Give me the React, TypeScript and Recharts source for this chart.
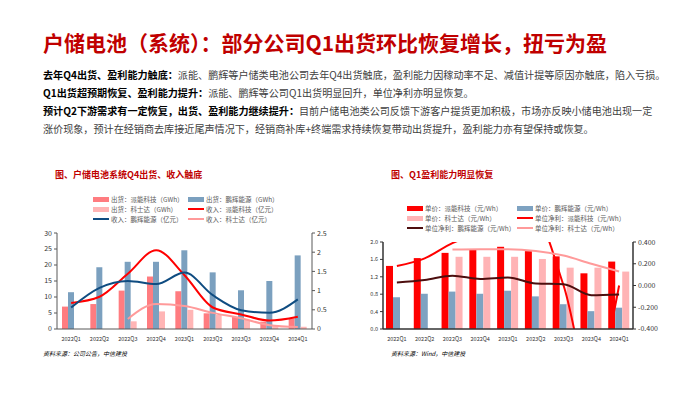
import React from 'react';
import { ComposedChart, Bar, Line, XAxis, YAxis } from 'recharts';

const quarters = [
  '2022Q1', '2022Q2', '2022Q3', '2022Q4',
  '2023Q1', '2023Q2', '2023Q3', '2023Q4', '2024Q1',
];

// 左图：出货 (GWh) + 收入 (亿元)
const shipPylon = [7, 7.8, 12, 16.4, 11.8, 4.9, 3.8, 2.3, 3.3];
const shipGreatPower = [11.5, 19.3, 21, 21, 24.6, 17.7, 12.1, 15, 23];
const shipKstar = [null, null, 2.4, 5.5, 6, 4.4, 2.8, 1.2, 0.7];
const revPylon = [0.68, 0.84, 1.44, 2.05, 1.4, 0.56, 0.38, 0.22, 0.32];
const revGreatPower = [0.56, 1.07, 1.25, 1.17, 1.47, 0.88, 0.49, 0.42, 0.77];
const revKstar = [null, null, 0.26, 0.65, 0.6, 0.42, 0.28, 0.1, 0.05];

// 右图：单价 + 单位净利 (元/Wh)
const pricePylon = [1.45, 1.63, 1.75, 1.83, 1.89, 1.79, 1.67, 1.28, 1.55];
const priceGreatPower = [0.73, 0.81, 0.86, 0.81, 0.88, 0.75, 0.57, 0.41, 0.49];
const priceKstar = [null, null, 1.66, 1.66, 1.66, 1.61, 1.41, 1.41, 1.32];
const profitPylon = [0.18, 0.25, 0.39, 0.48, 0.55, 0.6, 0.0, -0.9, 0.0];
const profitGreatPower = [0.027, 0.05, 0.09, 0.06, 0.073, 0.018, 0.012, -0.09, -0.083];
const profitKstar = [null, null, 0.33, 0.333, 0.333, 0.318, 0.275, 0.2, 0.128];

const leftTicks = [0, 5, 10, 15, 20, 25, 30];
const leftRightTicks = [0, 0.5, 1, 1.5, 2, 2.5];
const priceTicks = [0, 0.2, 0.4, 0.6, 0.8, 1.0, 1.2, 1.4, 1.6, 1.8, 2.0];
const profitTicks = [-0.4, -0.3, -0.2, -0.1, 0, 0.1, 0.2, 0.3, 0.4];

const title = '户储电池（系统）：部分公司Q1出货环比恢复增长，扭亏为盈';
const bodyLines: [string, string][] = [
  ['去年Q4出货、盈利能力触底：', '派能、鹏辉等户储类电池公司去年Q4出货触底，盈利能力因稼动率不足、减值计提等原因亦触底，陷入亏损。'],
  ['Q1出货超预期恢复、盈利能力提升：', '派能、鹏辉等公司Q1出货明显回升，单位净利亦明显恢复。'],
  ['预计Q2下游需求有一定恢复，出货、盈利能力继续提升：', '目前户储电池类公司反馈下游客户提货更加积极，市场亦反映小储电池出现一定'],
  ['', '涨价现象，预计在经销商去库接近尾声情况下，经销商补库+终端需求持续恢复带动出货提升，盈利能力亦有望保持或恢复。'],
];

const leftData = quarters.map((q, i) => ({
  quarter: q,
  shipPylon: shipPylon[i],
  shipGreatPower: shipGreatPower[i],
  shipKstar: shipKstar[i],
  revPylon: revPylon[i],
  revGreatPower: revGreatPower[i],
  revKstar: revKstar[i],
}));

const rightData = quarters.map((q, i) => ({
  quarter: q,
  pricePylon: pricePylon[i],
  priceGreatPower: priceGreatPower[i],
  priceKstar: priceKstar[i],
  profitPylon: profitPylon[i],
  profitGreatPower: profitGreatPower[i],
  profitKstar: profitKstar[i],
}));

type Item = { key: string; name: string; color: string; kind: 'bar' | 'line' };

const leftBars: Item[] = [
  { key: 'shipPylon', name: '出货：派能科技（GWh）', color: '#ff7c80', kind: 'bar' },
  { key: 'shipGreatPower', name: '出货：鹏辉能源（GWh）', color: '#7ba0bf', kind: 'bar' },
  { key: 'shipKstar', name: '出货：科士达（GWh）', color: '#ffb5b5', kind: 'bar' },
];
const leftLines: Item[] = [
  { key: 'revPylon', name: '收入：派能科技（亿元）', color: '#ff0000', kind: 'line' },
  { key: 'revGreatPower', name: '收入：鹏辉能源（亿元）', color: '#0f4c81', kind: 'line' },
  { key: 'revKstar', name: '收入：科士达（亿元）', color: '#ff9a9a', kind: 'line' },
];
const rightBars: Item[] = [
  { key: 'pricePylon', name: '单价：派能科技（元/Wh）', color: '#ff0000', kind: 'bar' },
  { key: 'priceGreatPower', name: '单价：鹏辉能源（元/Wh）', color: '#7ea2c1', kind: 'bar' },
  { key: 'priceKstar', name: '单价：科士达（元/Wh）', color: '#ffb3b5', kind: 'bar' },
];
const rightLines: Item[] = [
  { key: 'profitPylon', name: '单位净利：派能科技（元/Wh）', color: '#ff0000', kind: 'line' },
  { key: 'profitGreatPower', name: '单位净利：鹏辉能源（元/Wh）', color: '#4d0e0e', kind: 'line' },
  { key: 'profitKstar', name: '单位净利：科士达（元/Wh）', color: '#ff9a9a', kind: 'line' },
];

const FONT = '"Noto Sans CJK SC", "Noto Sans", sans-serif';
const RED = '#c00000';
const AXIS = '#595959';

function LegendGrid({ items, left, top, colW }: { items: Item[]; left: number; top: number; colW: number }) {
  return (
    <>
      {items.map((it, i) => (
        <div
          key={it.key}
          style={{
            position: 'absolute',
            left: left + (i % 2) * colW,
            top: top + Math.floor(i / 2) * 10 - 5,
            height: 10,
            display: 'flex',
            alignItems: 'center',
            whiteSpace: 'nowrap',
          }}
        >
          <div
            style={{
              width: 16,
              height: it.kind === 'bar' ? 5 : 2,
              background: it.color,
              marginRight: 2,
            }}
          />
          <span style={{ fontSize: 6.5, color: '#595959' }}>{it.name}</span>
        </div>
      ))}
    </>
  );
}

const tickStyle = { fontSize: 7, fill: '#333' };
const xTickStyle = { fontSize: 5.5, fill: '#333' };

export default function App() {
  const legendLeft = [leftBars[0], leftBars[1], leftBars[2], leftLines[0], leftLines[1], leftLines[2]];
  const legendRight = [rightBars[0], rightBars[1], rightBars[2], rightLines[0], rightLines[1], rightLines[2]];
  return (
    <div
      style={{
        position: 'absolute',
        left: 0,
        top: 0,
        width: 700,
        height: 394,
        background: '#fff',
        fontFamily: FONT,
        overflow: 'hidden',
      }}
    >
      <div
        style={{
          position: 'absolute',
          left: 43,
          top: 28,
          fontSize: 21,
          lineHeight: '28px',
          fontWeight: 700,
          color: RED,
          whiteSpace: 'nowrap',
        }}
      >
        {title}
      </div>

      {bodyLines.map(([bold, rest], i) => (
        <div
          key={i}
          style={{
            position: 'absolute',
            left: 43,
            top: 66 + i * 18,
            fontSize: 10.1,
            lineHeight: '18px',
            color: '#404040',
            whiteSpace: 'nowrap',
          }}
        >
          {bold && <span style={{ fontWeight: 700, color: '#000' }}>{bold}</span>}
          {rest}
        </div>
      ))}

      {/* 左图 */}
      <div style={{ position: 'absolute', left: 55, top: 169, fontSize: 9, lineHeight: '12px', fontWeight: 700, color: RED, whiteSpace: 'nowrap' }}>
        图、户储电池系统Q4出货、收入触底
      </div>
      <LegendGrid items={legendLeft} left={93} top={199} colW={95} />
      <div style={{ position: 'absolute', left: 20, top: 228 }}>
        <ComposedChart
          width={320}
          height={115}
          data={leftData}
          margin={{ top: 5, right: 0, bottom: 0, left: 0 }}
          barGap={0}
          barSize={6}
        >
          <XAxis
            dataKey="quarter"
            tick={xTickStyle}
            tickLine={false}
            axisLine={{ stroke: AXIS }}
            interval={0}
            height={14}
          />
          <YAxis
            yAxisId="ship"
            domain={[0, 30]}
            ticks={leftTicks}
            tick={tickStyle}
            width={37}
            tickSize={3}
            axisLine={{ stroke: AXIS }}
            tickLine={{ stroke: AXIS }}
          />
          <YAxis
            yAxisId="rev"
            orientation="right"
            domain={[0, 2.5]}
            ticks={leftRightTicks}
            tick={tickStyle}
            width={28}
            tickSize={3}
            axisLine={{ stroke: AXIS }}
            tickLine={{ stroke: AXIS }}
          />
          {leftBars.map((b) => (
            <Bar key={b.key} yAxisId="ship" dataKey={b.key} name={b.name} fill={b.color} isAnimationActive={false} />
          ))}
          {leftLines.map((l) => (
            <Line
              key={l.key}
              yAxisId="rev"
              type="monotone"
              dataKey={l.key}
              name={l.name}
              stroke={l.color}
              strokeWidth={2}
              dot={false}
              isAnimationActive={false}
            />
          ))}
        </ComposedChart>
      </div>
      <div style={{ position: 'absolute', left: 43, top: 349, fontSize: 6, lineHeight: '10px', fontStyle: 'italic', color: '#000', whiteSpace: 'nowrap' }}>
        资料来源：公司公告，中信建投
      </div>

      {/* 右图 */}
      <div style={{ position: 'absolute', left: 391, top: 169, fontSize: 9, lineHeight: '12px', fontWeight: 700, color: RED, whiteSpace: 'nowrap' }}>
        图、Q1盈利能力明显恢复
      </div>
      <LegendGrid items={legendRight} left={407} top={208} colW={110} />
      <div style={{ position: 'absolute', left: 350, top: 237 }}>
        <ComposedChart
          width={320}
          height={106}
          data={rightData}
          margin={{ top: 5, right: 0, bottom: 0, left: 0 }}
          barGap={0}
          barSize={7}
        >
          <XAxis
            dataKey="quarter"
            tick={xTickStyle}
            tickLine={false}
            axisLine={{ stroke: '#333', strokeWidth: 1.5 }}
            interval={0}
            height={14}
          />
          <YAxis
            yAxisId="price"
            domain={[0, 2]}
            ticks={priceTicks}
            tick={{ fontSize: 5.5, fill: '#333' }}
            tickFormatter={(v: number) => v.toFixed(1)}
            width={33}
            tickSize={3}
            axisLine={{ stroke: '#333', strokeWidth: 1.5 }}
            tickLine={{ stroke: '#333' }}
          />
          <YAxis
            yAxisId="profit"
            orientation="right"
            domain={[-0.4, 0.4]}
            allowDataOverflow
            ticks={profitTicks}
            tick={tickStyle}
            tickFormatter={(v: number) => v.toFixed(3)}
            width={37}
            tickSize={3}
            axisLine={{ stroke: '#333', strokeWidth: 1.5 }}
            tickLine={{ stroke: '#333' }}
          />
          {rightBars.map((b) => (
            <Bar key={b.key} yAxisId="price" dataKey={b.key} name={b.name} fill={b.color} isAnimationActive={false} />
          ))}
          {rightLines.map((l) => (
            <Line
              key={l.key}
              yAxisId="profit"
              type="monotone"
              dataKey={l.key}
              name={l.name}
              stroke={l.color}
              strokeWidth={2}
              dot={false}
              isAnimationActive={false}
            />
          ))}
        </ComposedChart>
      </div>
      <div style={{ position: 'absolute', left: 391, top: 349, fontSize: 6, lineHeight: '10px', fontStyle: 'italic', color: '#000', whiteSpace: 'nowrap' }}>
        资料来源：Wind，中信建投
      </div>
    </div>
  );
}
